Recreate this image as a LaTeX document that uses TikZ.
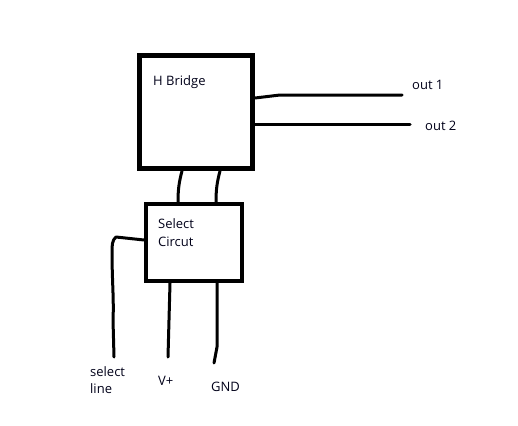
\documentclass[tikz,border=0pt]{standalone}
\usepackage{fontspec}
\setmainfont{Open Sans}
\begin{document}
\begin{tikzpicture}[x=1pt,y=-1pt,
  blk/.style={draw=black,line width=4.5pt},
  wire/.style={draw=black,line width=3pt,line cap=round,line join=round},
  lbl/.style={font=\fontsize{13}{16}\selectfont,inner sep=0pt,anchor=west,text=black!90!blue}]
\useasboundingbox[fill=white] (0,0) rectangle (518,425);
% boxes
\path[blk] (139.5,55.5) rectangle (252.5,168.5);
\path[blk] (146,204) rectangle (242,281);
\node[lbl] (hbt) at (153,82) {H Bridge};
\node[lbl] (sel) at (158,224) {Select};
\node[lbl] (cir) at (158,242) {Circut};
% wires between boxes
\draw[wire] (182,171) .. controls (179,182) and (178,190) .. (178,202);
\draw[wire] (220,171) .. controls (217,182) and (216,190) .. (216,202);
% outputs
\coordinate (o1a) at (255,98);
\coordinate (o1e) at (402,95);
\coordinate (o2a) at (255,124);
\coordinate (o2e) at (410,124);
\draw[wire] (o1a) -- (280,95) -- (o1e);
\draw[wire] (o2a) -- (o2e);
\node[lbl] (out1) at (412,85) {out 1};
\node[lbl] (out2) at (425,126) {out 2};
% select line
\coordinate (sl0) at (144,240);
\coordinate (sl1) at (114,357);
\draw[wire] (sl0) -- (116,237) .. controls (112,240) and (112,246) .. (112,252) .. controls (112,280) and (114,300) .. (113,320) -- (sl1);
% V+ and GND
\coordinate (vp0) at (170,283);
\coordinate (vp1) at (168,357);
\draw[wire] (vp0) -- (169,320) -- (vp1);
\coordinate (gn0) at (217,283);
\coordinate (gn1) at (214,363);
\draw[wire] (gn0) -- (217,347) -- (gn1);
\node[lbl] (slt) at (90,372) {select};
\node[lbl] (sll) at (90,389) {line};
\node[lbl] (vpt) at (158,381) {V+};
\node[lbl] (gnd) at (211,387) {GND};
\end{tikzpicture}
\end{document}
